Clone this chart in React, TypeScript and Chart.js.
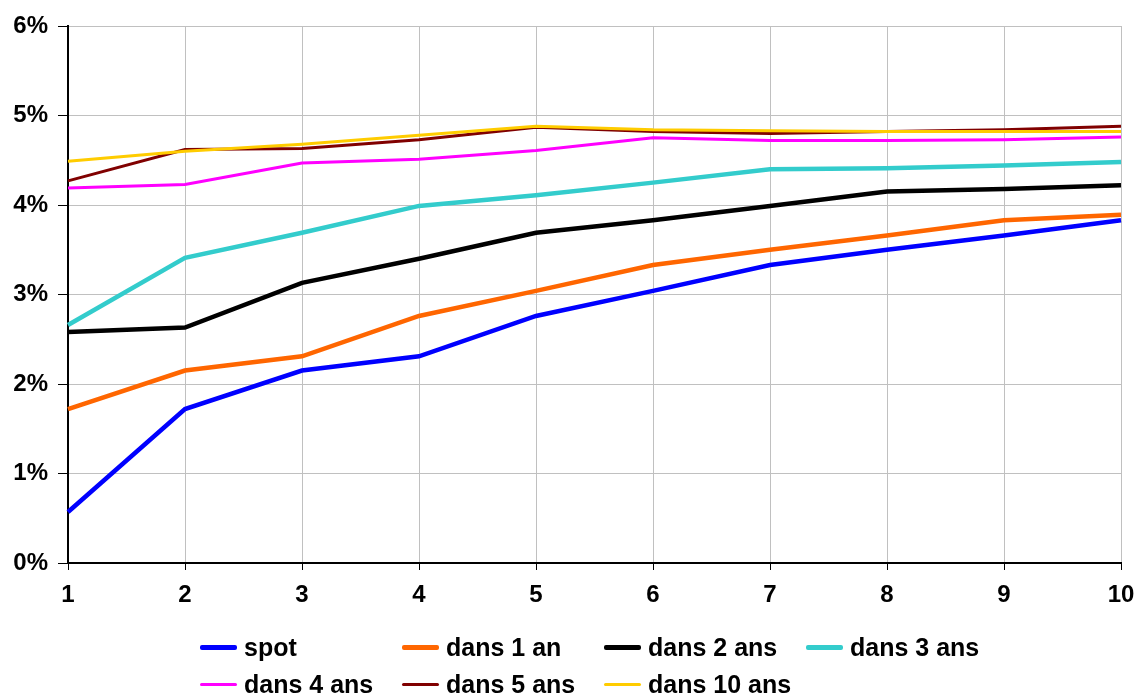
import React, { useEffect, useRef } from "react";
import { Chart, registerables } from "chart.js";

Chart.register(...registerables);

const years = ["1", "2", "3", "4", "5", "6", "7", "8", "9", "10"];
const spot = [0.57, 1.72, 2.15, 2.31, 2.76, 3.04, 3.33, 3.5, 3.66, 3.83];
const dans1an = [1.72, 2.15, 2.31, 2.76, 3.04, 3.33, 3.5, 3.66, 3.83, 3.89];
const dans2ans = [2.58, 2.63, 3.13, 3.4, 3.69, 3.83, 3.99, 4.15, 4.18, 4.22];
const dans3ans = [2.66, 3.41, 3.69, 3.99, 4.11, 4.25, 4.4, 4.41, 4.44, 4.48];
const dans4ans = [4.19, 4.23, 4.47, 4.51, 4.61, 4.75, 4.72, 4.72, 4.73, 4.76];
const dans5ans = [4.27, 4.62, 4.63, 4.73, 4.87, 4.82, 4.8, 4.82, 4.84, 4.88];
const dans10ans = [4.49, 4.6, 4.68, 4.78, 4.88, 4.84, 4.83, 4.82, 4.82, 4.82];

const seriesNames = ["spot", "dans 1 an", "dans 2 ans", "dans 3 ans", "dans 4 ans", "dans 5 ans", "dans 10 ans"];
const seriesData = [spot, dans1an, dans2ans, dans3ans, dans4ans, dans5ans, dans10ans];
const seriesColors = ["#0000FF", "#FF6600", "#000000", "#33CCCC", "#FF00FF", "#800000", "#FFCC00"];
const seriesWidths = [4.5, 4.5, 4.5, 4.5, 3, 3, 3];

const yTicks = [0, 1, 2, 3, 4, 5, 6];

const FONT = "'Liberation Sans', Arial, sans-serif";

export default function App() {
  const ref = useRef<HTMLCanvasElement | null>(null);

  useEffect(() => {
    if (!ref.current) return;
    const chart = new Chart(ref.current, {
      type: "line",
      data: {
        labels: years,
        datasets: seriesNames.map((name, i) => ({
          label: name,
          data: seriesData[i],
          borderColor: seriesColors[i],
          backgroundColor: seriesColors[i],
          borderWidth: seriesWidths[i],
          pointRadius: 0,
          tension: 0,
          fill: false,
          order: seriesNames.length - i,
        })),
      },
      options: {
        responsive: false,
        animation: false,
        devicePixelRatio: 1,
        layout: { padding: { left: 0, top: 26, right: 17, bottom: 80 } },
        plugins: { legend: { display: false }, tooltip: { enabled: false }, title: { display: false } },
        scales: {
          x: {
            type: "category",
            offset: false,
            grid: { color: "#C0C0C0", lineWidth: 1, tickColor: "#000", tickLength: 7, drawTicks: true },
            border: { color: "#000", width: 2 },
            ticks: {
              color: "#000",
              font: { family: FONT, size: 24, weight: "bold" },
              padding: 11,
              maxRotation: 0,
              autoSkip: false,
            },
            afterFit: (s: any) => {
              s.height = 50;
              s.paddingLeft = 0;
              s.paddingRight = 0;
            },
          },
          y: {
            min: yTicks[0],
            max: yTicks[yTicks.length - 1],
            afterBuildTicks: (s: any) => {
              s.ticks = yTicks.map((v) => ({ value: v }));
            },
            grid: { color: "#C0C0C0", lineWidth: 1, tickColor: "#000", tickLength: 10, drawTicks: true },
            border: { color: "#000", width: 2 },
            ticks: {
              color: "#000",
              font: { family: FONT, size: 24, weight: "bold" },
              padding: 10,
              callback: (v: any) => `${v}%`,
            },
            afterFit: (s: any) => {
              s.width = 68;
              s.paddingTop = 0;
              s.paddingBottom = 0;
            },
          },
        },
      },
    });
    return () => chart.destroy();
  }, []);

  return (
    <div style={{ position: "absolute", left: 0, top: 0, width: 1138, height: 693, background: "#fff" }}>
      <canvas ref={ref} width={1138} height={693} style={{ width: 1138, height: 693, display: "block" }} />
      <div
        style={{
          position: "absolute",
          left: 200,
          top: 629,
          display: "grid",
          gridTemplateColumns: "repeat(4, 202px)",
          gridAutoRows: "37px",
          fontFamily: FONT,
          fontWeight: "bold",
          fontSize: 25,
          color: "#000",
        }}
      >
        {seriesNames.map((name, i) => (
          <div key={name} style={{ display: "flex", alignItems: "center", whiteSpace: "nowrap" }}>
            <span
              style={{
                display: "inline-block",
                width: 37,
                height: seriesWidths[i],
                background: seriesColors[i],
                borderRadius: 2,
                marginRight: 7,
              }}
            />
            <span>{name}</span>
          </div>
        ))}
      </div>
    </div>
  );
}
